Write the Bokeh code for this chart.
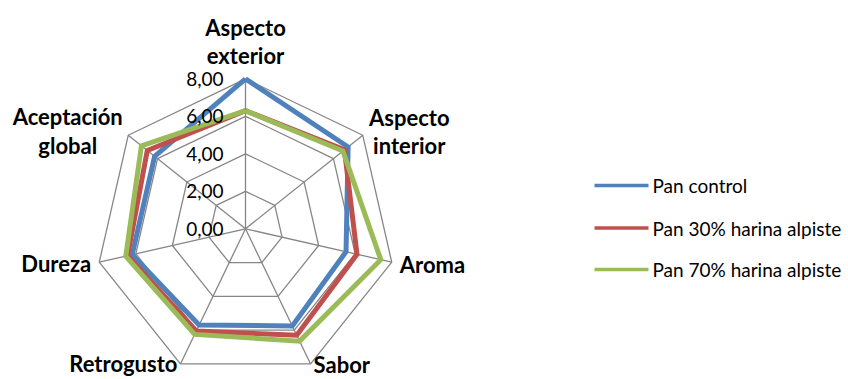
import numpy as np
from bokeh.plotting import figure
from bokeh.models import Range1d
from bokeh.core.properties import value
from bokeh.embed import file_html
from bokeh.resources import INLINE

# ---- data -------------------------------------------------------------
categories = ["Aspecto exterior", "Aspecto interior", "Aroma", "Sabor",
              "Retrogusto", "Dureza", "Aceptación global"]
series_names = ["Pan control", "Pan 30% harina alpiste", "Pan 70% harina alpiste"]
pan_control = [8.00, 7.00, 5.50, 5.75, 5.70, 6.20, 6.20]
pan_30 = [6.30, 6.75, 6.10, 6.30, 6.05, 6.45, 6.70]
pan_70 = [6.30, 6.65, 7.40, 6.65, 6.25, 6.55, 7.10]
ticks = [0, 2, 4, 6, 8]
tick_labels = ["0,00", "2,00", "4,00", "6,00", "8,00"]

# ---- styling / layout -------------------------------------------------
W, H = 848, 379
CX, CY = 245.0, 228.3          # radar centre on the canvas (px from top-left)
PX = 18.75                     # pixels per score unit
colors = ["#4F81BD", "#C0504D", "#9BBB59"]
grid_color = "#868686"
FONT = value("Lato")
TXT = "#000000"

# label placement relative to the outer-ring vertex: (align, dx px, dy px per line)
label_layout = [
    ("center", 0, [-51.0, -23.0]),
    ("center", 46.5, [-17.5, 10.5]),
    ("left", 8, [2.5]),
    ("left", 3, [0.5]),
    ("right", -3, [0.0]),
    ("right", -8, [1.5]),
    ("center", -60.5, [-19.0, 10.5]),
]

# legend key geometry (px from top-left)
LEG_X0, LEG_X1, LEG_TX = 594, 648, 652
LEG_Y = [185.0, 227.5, 269.0]


def dx_(px):
    return (px - CX) / PX


def dy_(py):
    return (CY - py) / PX


n = len(categories)
theta = 2 * np.pi * np.arange(n) / n
sx, sy = np.sin(theta), np.cos(theta)
rmax = max(ticks)

p = figure(width=W, height=H, output_backend="svg", toolbar_location=None,
           x_range=Range1d(-CX / PX, (W - CX) / PX),
           y_range=Range1d(-(H - CY) / PX, CY / PX),
           min_border=0, outline_line_color=None)
p.axis.visible = False
p.grid.visible = False
p.background_fill_color = "white"
p.border_fill_color = "white"

# grid rings and spokes
ring_x = [list(t * np.append(sx, sx[0])) for t in ticks if t > 0]
ring_y = [list(t * np.append(sy, sy[0])) for t in ticks if t > 0]
p.multi_line(ring_x, ring_y, line_color=grid_color, line_width=1.3)
p.segment(x0=[0] * n, y0=[0] * n, x1=list(rmax * sx), y1=list(rmax * sy),
          line_color=grid_color, line_width=1.3)

# series polygons
for vals, col in zip([pan_control, pan_30, pan_70], colors):
    v = np.array(vals + vals[:1])
    xs = v * np.append(sx, sx[0])
    ys = v * np.append(sy, sy[0])
    p.line(list(xs), list(ys), line_color=col, line_width=5, line_join="miter")

# radial tick labels along the first axis
p.text(x=[-22 / PX] * len(ticks), y=ticks, text=tick_labels,
       text_align="right", text_baseline="middle",
       text_font=FONT, text_font_size="19px", text_color=TXT)

# category labels
for k, cat in enumerate(categories):
    align, ox, oys = label_layout[k]
    vx, vy = rmax * sx[k], rmax * sy[k]
    for line, oy in zip(cat.split(" "), oys):
        p.text(x=[vx + ox / PX], y=[vy - oy / PX], text=[line],
               text_align=align, text_baseline="middle",
               text_font=FONT, text_font_style="bold", text_font_size="22px",
               text_color=TXT)

# legend: short key line plus series name
p.segment(x0=[dx_(LEG_X0)] * 3, x1=[dx_(LEG_X1)] * 3,
          y0=[dy_(y) for y in LEG_Y], y1=[dy_(y) for y in LEG_Y],
          line_color=colors, line_width=3.5)
p.text(x=[dx_(LEG_TX)] * 3, y=[dy_(y) for y in LEG_Y], text=series_names,
       text_align="left", text_baseline="middle",
       text_font=FONT, text_font_size="19px", text_color=TXT)

open("out.html", "w").write(file_html(p, INLINE))
